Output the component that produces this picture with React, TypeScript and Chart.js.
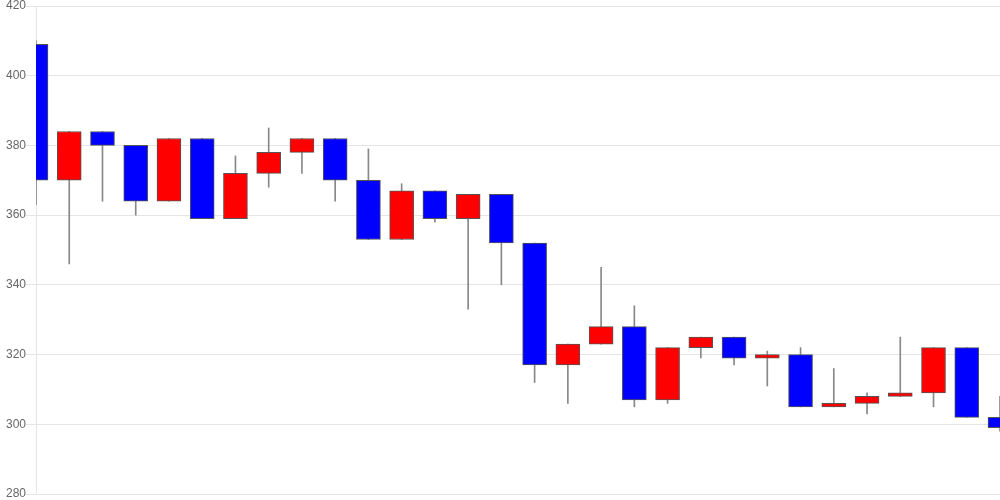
import React, { useEffect, useRef } from "react";
import { Chart, registerables } from "chart.js";

Chart.register(...registerables);

const labels = Array.from({ length: 30 }, (_, i) => String(i + 1));
const openValues = [409, 370, 384, 380, 364, 382, 359, 372, 378, 382, 370, 353, 367, 359, 366, 352, 317, 323, 328, 307, 322, 325, 319, 320, 305, 306, 308, 309, 322, 302];
const highValues = [410, 384, 384, 380, 382, 382, 377, 385, 382, 382, 379, 369, 367, 366, 366, 352, 323, 345, 334, 322, 325, 325, 321, 322, 316, 309, 325, 322, 322, 308];
const lowValues = [363, 346, 364, 360, 364, 359, 359, 368, 372, 364, 353, 353, 358, 333, 340, 312, 306, 323, 305, 306, 319, 317, 311, 305, 305, 303, 308, 305, 302, 298];
const closeValues = [370, 384, 380, 364, 382, 359, 372, 378, 382, 370, 353, 367, 359, 366, 352, 317, 323, 328, 307, 322, 325, 319, 320, 305, 306, 308, 309, 322, 302, 299];

const UP = "#ff0000";
const DOWN = "#0000ff";

export default function App() {
  const ref = useRef<HTMLCanvasElement | null>(null);
  useEffect(() => {
    if (!ref.current) return;
    const colors = openValues.map((o, i) => (closeValues[i] >= o ? UP : DOWN));
    const chart = new Chart(ref.current, {
      type: "bar",
      data: {
        labels,
        datasets: [
          {
            label: "body",
            data: openValues.map((o, i) => [o, closeValues[i]]),
            backgroundColor: colors,
            borderColor: "#555",
            borderWidth: 1,
            borderSkipped: false,
            barThickness: 24,
            grouped: false,
            clip: 0,
            order: 1,
          } as any,
          {
            label: "wick",
            data: lowValues.map((l, i) => [l, highValues[i]]),
            backgroundColor: "#888",
            borderWidth: 0,
            barThickness: 1,
            grouped: false,
            clip: 0,
            order: 2,
          } as any,
        ],
      },
      options: {
        animation: false,
        responsive: false,
        maintainAspectRatio: false,
        plugins: { legend: { display: false }, tooltip: { enabled: false } },
        layout: { padding: 0 },
        scales: {
          x: {
            display: false,
            offset: false,
          },
          y: {
            min: 280,
            max: 420,
            afterFit: (scale: any) => {
              scale.width = 36;
              scale.paddingTop = 6;
              scale.paddingBottom = 6;
            },
            ticks: {
              stepSize: 20,
              padding: 0,
              color: "#666",
              font: { family: "'Liberation Sans', Arial, sans-serif", size: 12 },
            },
            grid: { color: "rgba(0,0,0,0.1)", tickLength: 10 },
            border: { color: "rgba(0,0,0,0.1)" },
          },
        },
      },
    });
    return () => chart.destroy();
  }, []);
  return (
    <div style={{ position: "fixed", left: 0, top: 0, width: 1000, height: 500, background: "#fff" }}>
      <canvas ref={ref} width={1000} height={500} />
    </div>
  );
}
